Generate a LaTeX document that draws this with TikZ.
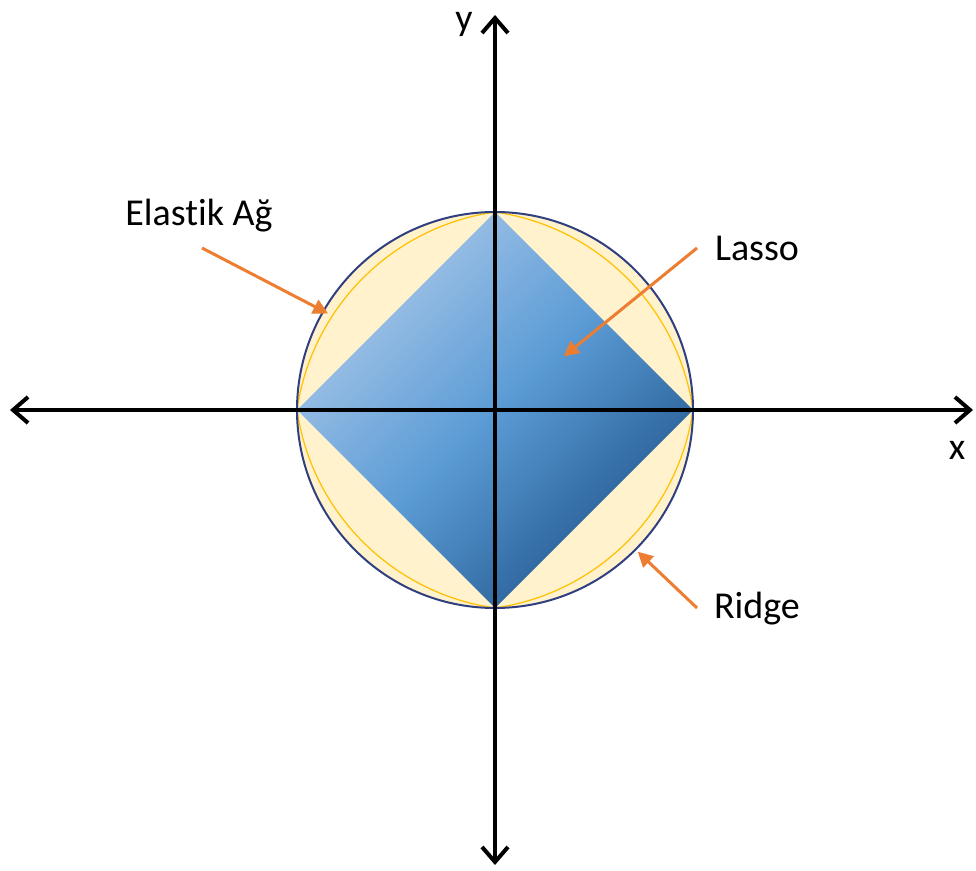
\documentclass[tikz,border=0pt]{standalone}
\usepackage{fontspec}
\setmainfont{Carlito}[Ligatures=NoCommon]
\usepackage{xcolor}
\usepackage{tikz}
\usetikzlibrary{arrows.meta}
\definecolor{cream}{HTML}{FFF2CC}
\definecolor{navyx}{HTML}{2F3F80}
\definecolor{goldx}{HTML}{FFC000}
\definecolor{orangex}{HTML}{ED7D31}
\definecolor{lightblue}{HTML}{A9C8EA}
\definecolor{midblue}{HTML}{5B9BD5}
\definecolor{darkblue}{HTML}{22578F}
\pgfdeclareverticalshading{lassoshade}{100bp}{color(0bp)=(darkblue); color(25bp)=(darkblue); color(50bp)=(midblue); color(75bp)=(lightblue); color(100bp)=(lightblue)}
\tikzset{
  axis/.style={line width=4pt,-{Straight Barb[length=15pt,width=26pt,line width=4pt]},black},
  pt/.style={-{Triangle[length=15pt,width=15pt]},line width=3pt,orangex,shorten >=1pt},
  lbl/.style={font=\fontsize{38}{40}\selectfont,inner sep=0pt}
}
\begin{document}
\begin{tikzpicture}[x=1pt,y=1pt,declare function={enr(\t)=(-0.25*(abs(cos(\t))+abs(sin(\t)))+sqrt(0.0625*(abs(cos(\t))+abs(sin(\t)))^2+3))/1.5;}]
\useasboundingbox (0,0) rectangle (976,870);
\coordinate (O) at (495,460);
% penalty regions
\fill[cream] (O) circle (198);
\shade[shading=lassoshade,shading angle=45] (495,658)--(693,460)--(495,262)--(297,460)--cycle;
\draw[goldx,line width=1.2pt,shift={(O)}] plot[domain=0:360,samples=361] (\x:{198*enr(\x)}) -- cycle;
\draw[navyx,line width=2pt] (O) circle (198);
% axes
\draw[axis] (O) -- (973,460);
\draw[axis] (O) -- (10,460);
\draw[axis] (O) -- (495,855);
\draw[axis] (O) -- (495,5);
\node[lbl] (ylbl) at (464,846) {y};
\node[lbl] (xlbl) at (957,420) {x};
% labels and pointers
\node[lbl] (elastik) at (199,654) {Elastik Ağ};
\node[lbl] (lasso) at (757,622) {Lasso};
\node[lbl] (ridge) at (757,261) {Ridge};
\coordinate (elastikT) at (202,622);
\coordinate (elastikH) at (329,556);
\coordinate (lassoT) at (697,622);
\coordinate (lassoH) at (563,513);
\coordinate (ridgeT) at (697,262);
\coordinate (ridgeH) at (637,319);
\foreach \a in {elastik,lasso,ridge}{\draw[pt] (\a T) -- (\a H);}
\end{tikzpicture}
\end{document}
